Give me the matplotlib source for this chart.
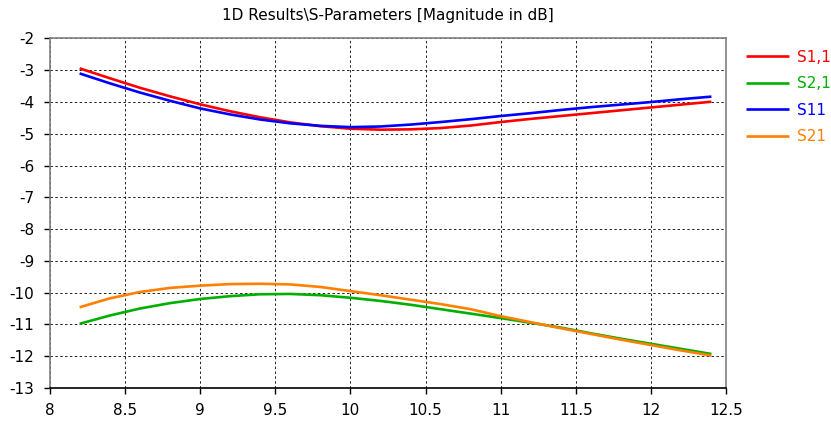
import matplotlib.pyplot as plt

# frequency points (GHz)
freq = [8.2, 8.4, 8.6, 8.8, 9.0, 9.2, 9.4, 9.6, 9.8, 10.0, 10.2,
        10.4, 10.6, 10.8, 11.0, 11.2, 11.4, 11.6, 11.8, 12.0, 12.2, 12.4]

s11_a = [-2.94, -3.25, -3.55, -3.82, -4.07, -4.29, -4.48, -4.64, -4.76, -4.84, -4.87,
         -4.86, -4.82, -4.74, -4.63, -4.53, -4.44, -4.35, -4.26, -4.17, -4.08, -3.99]
s21_a = [-10.98, -10.72, -10.5, -10.33, -10.2, -10.11, -10.05, -10.04, -10.08, -10.16, -10.26,
         -10.38, -10.52, -10.66, -10.8, -10.95, -11.1, -11.28, -11.45, -11.61, -11.77, -11.93]
s11_b = [-3.1, -3.41, -3.7, -3.96, -4.2, -4.39, -4.55, -4.67, -4.75, -4.79, -4.77,
         -4.71, -4.63, -4.54, -4.44, -4.35, -4.25, -4.16, -4.08, -4.0, -3.91, -3.83]
s21_b = [-10.46, -10.18, -9.98, -9.85, -9.78, -9.73, -9.72, -9.74, -9.82, -9.95, -10.08,
         -10.22, -10.36, -10.52, -10.74, -10.93, -11.12, -11.3, -11.48, -11.65, -11.82, -11.98]

series = [('S1,1', s11_a, '#ff0000'),
          ('S2,1', s21_a, '#00b000'),
          ('S11', s11_b, '#0000ff'),
          ('S21', s21_b, '#ff8000')]

xticks = [8, 8.5, 9, 9.5, 10, 10.5, 11, 11.5, 12, 12.5]
xticklabels = ['8', '8.5', '9', '9.5', '10', '10.5', '11', '11.5', '12', '12.5']
yticks = list(range(-13, -1))

fig = plt.figure(figsize=(8.31, 4.21), dpi=100)
ax = fig.add_axes([0.0596, 0.0784, 0.8146, 0.8302])

for name, vals, col in series:
    ax.plot(freq, vals, color=col, lw=1.9, label=name, solid_capstyle='butt')

ax.set_xlim(8, 12.5)
ax.set_ylim(-13, -2)
ax.set_xticks(xticks)
ax.set_xticklabels(xticklabels)
ax.set_yticks(yticks)
ax.set_yticklabels([str(v) for v in yticks])
ax.tick_params(labelsize=11, length=4, width=1, color='black', direction='out')
ax.tick_params(axis='x', pad=7)
ax.tick_params(axis='y', pad=7)

ax.grid(True, color='#222222', linestyle=(0, (2.5, 2.5)), lw=0.7)
for side in ['left', 'top', 'right']:
    ax.spines[side].set_color('#808080')
    ax.spines[side].set_linewidth(1.2)
ax.spines['bottom'].set_color('black')
ax.spines['bottom'].set_linewidth(1.2)

fig.text(0.467, 0.962, '1D Results\\S-Parameters [Magnitude in dB]',
         ha='center', va='center', fontsize=11)

ax.legend(loc='upper left', bbox_to_anchor=(0.898, 0.882), bbox_transform=fig.transFigure,
          frameon=False, fontsize=11, labelcolor='linecolor', handlelength=2.8,
          handletextpad=0.5, labelspacing=0.75, borderpad=0, borderaxespad=0)

fig.savefig('out.png', dpi=100)
